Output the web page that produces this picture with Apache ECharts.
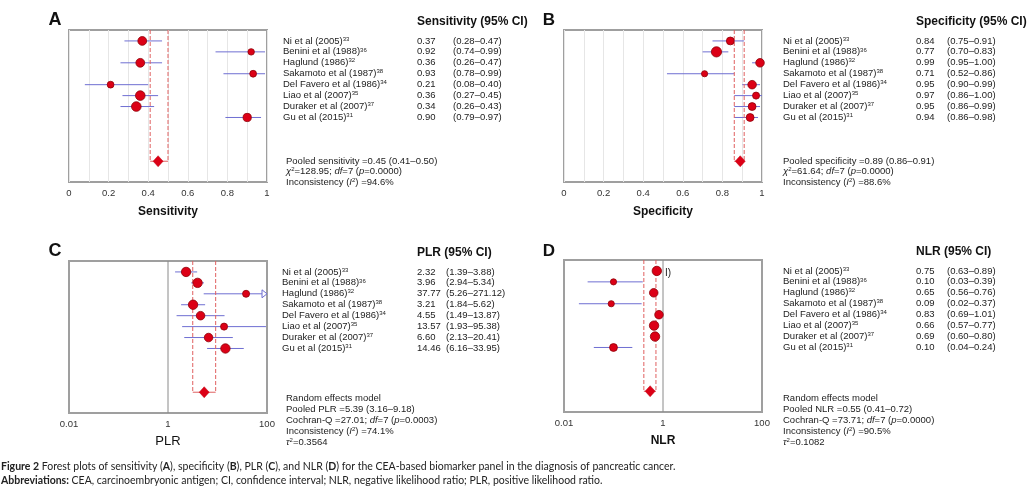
<!DOCTYPE html>
<html>
<head>
<meta charset="utf-8">
<script src="https://cdn.jsdelivr.net/npm/echarts@6/dist/echarts.min.js"></script>
<style>
html,body{margin:0;padding:0;background:#fff;}
#chart{width:1035px;height:492px;}
</style>
</head>
<body>
<div id="chart"></div>
<script>
// ---------------- DATA ----------------
const studies = ["Ni et al (2005)", "Benini et al (1988)", "Haglund (1986)", "Sakamoto et al (1987)",
                 "Del Favero et al (1986)", "Liao et al (2007)", "Duraker et al (2007)", "Gu et al (2015)"];
const refs = ["33", "36", "32", "38", "34", "35", "37", "31"];

const sensEst = [0.37, 0.92, 0.36, 0.93, 0.21, 0.36, 0.34, 0.90];
const sensLo  = [0.28, 0.74, 0.26, 0.78, 0.08, 0.27, 0.26, 0.79];
const sensHi  = [0.47, 0.99, 0.47, 0.99, 0.40, 0.45, 0.43, 0.97];
const sensWeight = [14, 7.6, 14, 8.4, 8.4, 16.8, 16.8, 12.3];
const sensPooled = [0.45, 0.41, 0.50];

const specEst = [0.84, 0.77, 0.99, 0.71, 0.95, 0.97, 0.95, 0.94];
const specLo  = [0.75, 0.70, 0.95, 0.52, 0.90, 0.86, 0.86, 0.86];
const specHi  = [0.91, 0.83, 1.00, 0.86, 0.99, 1.00, 0.99, 0.98];
const specWeight = [11.2, 18.9, 13.3, 7, 13.3, 9, 11.2, 11.2];
const specPooled = [0.89, 0.86, 0.91];

const plrEst = [2.32, 3.96, 37.77, 3.21, 4.55, 13.57, 6.60, 14.46];
const plrLo  = [1.39, 2.94, 5.26, 1.84, 1.49, 1.93, 2.13, 6.16];
const plrHi  = [3.88, 5.34, 271.12, 5.62, 13.87, 95.38, 20.41, 33.95];
const plrWeight = [16, 16, 9, 16, 13.3, 9, 13.3, 16];
const plrPooled = [5.39, 3.16, 9.18];

const nlrEst = [0.75, 0.10, 0.65, 0.09, 0.83, 0.66, 0.69, 0.10];
const nlrLo  = [0.63, 0.03, 0.56, 0.02, 0.69, 0.57, 0.60, 0.04];
const nlrHi  = [0.89, 0.39, 0.76, 0.37, 1.01, 0.77, 0.80, 0.24];
const nlrWeight = [16, 7, 13.3, 7, 13.3, 16, 16, 11.2];
const nlrPooled = [0.55, 0.41, 0.72];

const sensStats = {chi2: "128.95", df: "7", p: "0.0000", i2: "94.6"};
const specStats = {chi2: "61.64", df: "7", p: "0.0000", i2: "88.6"};
const plrStats = {q: "27.01", df: "7", p: "0.0003", i2: "74.1", tau2: "0.3564"};
const nlrStats = {q: "73.71", df: "7", p: "0.0000", i2: "90.5", tau2: "0.1082"};

const linearTicks = [0, 0.2, 0.4, 0.6, 0.8, 1];
const logTicks = [0.01, 1, 100];
const nullValue = 1;

// ---------------- LAYOUT / STYLE ----------------
const FONT = "'Liberation Sans', Arial, sans-serif";
const yMax = 13.9;
const pooledRow = 12;
const grids = [
  {left: 69,  top: 30,  width: 198, height: 152},
  {left: 564, top: 30,  width: 198, height: 152},
  {left: 69,  top: 261, width: 198, height: 152},
  {left: 564, top: 260, width: 198, height: 152}
];
const CI_COLOR = '#6f6fd2';
const RED = '#dc0016';
const DARKRED = '#8e0008';
const DASH = '#e06060';

function rowY(gi, i) { const g = grids[gi]; return g.top + (i) * g.height / yMax; }

function ciSeries(gi, lo, hi, axisMax) {
  return {
    type: 'custom', xAxisIndex: gi, yAxisIndex: gi, z: 3, silent: true,
    encode: {x: [0, 1], y: 2},
    data: lo.map((l, i) => [l, hi[i], i + 1]),
    renderItem: function (params, api) {
      const r = api.value(2);
      const h = api.value(1);
      const capped = axisMax != null && h > axisMax;
      const p1 = api.coord([api.value(0), r]);
      const p2 = api.coord([capped ? axisMax : h, r]);
      const ch = [{type: 'line', shape: {x1: p1[0], y1: p1[1], x2: p2[0], y2: p2[1]},
                   style: {stroke: CI_COLOR, lineWidth: 1}}];
      if (capped) {
        ch.push({type: 'polygon', shape: {points: [[p2[0], p2[1]], [p2[0] - 5, p2[1] - 4], [p2[0] - 5, p2[1] + 4]]},
                 style: {fill: '#fff', stroke: CI_COLOR, lineWidth: 1}});
      }
      return {type: 'group', children: ch};
    }
  };
}

function pointSeries(gi, est, w) {
  return {
    type: 'scatter', xAxisIndex: gi, yAxisIndex: gi, z: 5, silent: true,
    data: est.map((v, i) => ({value: [v, i + 1], symbolSize: 2.35 * Math.sqrt(w[i])})),
    symbol: 'circle',
    itemStyle: {color: RED, borderColor: DARKRED, borderWidth: 0.8, opacity: 1}
  };
}

function pooledSeries(gi, pooled) {
  return {
    type: 'custom', xAxisIndex: gi, yAxisIndex: gi, z: 4, silent: true,
    encode: {x: [0, 1, 2], y: 3},
    data: [[pooled[1], pooled[2], pooled[0], pooledRow]],
    renderItem: function (params, api) {
      const r = api.value(3);
      const a0 = api.coord([api.value(0), 0]), a1 = api.coord([api.value(0), r]);
      const b0 = api.coord([api.value(1), 0]), b1 = api.coord([api.value(1), r]);
      const c = api.coord([api.value(2), r]);
      const dash = {stroke: DASH, lineWidth: 1, lineDash: [4, 2]};
      return {type: 'group', children: [
        {type: 'line', shape: {x1: a0[0], y1: a0[1], x2: a1[0], y2: a1[1]}, style: dash},
        {type: 'line', shape: {x1: b0[0], y1: b0[1], x2: b1[0], y2: b1[1]}, style: dash},
        {type: 'line', shape: {x1: a1[0], y1: a1[1], x2: b1[0], y2: b1[1]}, style: {stroke: DASH, lineWidth: 1}},
        {type: 'polygon', shape: {points: [[c[0] - 5, c[1]], [c[0], c[1] - 5.5], [c[0] + 5, c[1]], [c[0], c[1] + 5.5]]},
         style: {fill: RED, stroke: '#c00010', lineWidth: 0.5}}
      ]};
    }
  };
}

function nullLineSeries(gi) {
  return {
    type: 'custom', xAxisIndex: gi, yAxisIndex: gi, z: 2, silent: true,
    encode: {x: 0, y: [1, 2]},
    data: [[nullValue, 0, yMax]],
    renderItem: function (params, api) {
      const p1 = api.coord([api.value(0), api.value(1)]);
      const p2 = api.coord([api.value(0), api.value(2)]);
      return {type: 'line', shape: {x1: p1[0], y1: p1[1], x2: p2[0], y2: p2[1]},
              style: {stroke: '#8a8a8a', lineWidth: 1}};
    }
  };
}

function linAxis(gi) {
  return {
    type: 'value', gridIndex: gi, min: 0, max: 1, interval: 0.1,
    axisLine: {show: false}, axisTick: {show: false},
    splitLine: {show: true, lineStyle: {color: '#e6e6e6', width: 1}},
    axisLabel: {
      show: true, margin: 6, fontSize: 9.5, fontFamily: FONT, color: '#333',
      showMinLabel: true, showMaxLabel: true, hideOverlap: false,
      formatter: v => linearTicks.some(t => Math.abs(t - v) < 1e-6) ? String(+v.toFixed(1)) : ''
    }
  };
}
function logAxis(gi) {
  return {
    type: 'log', logBase: 10, gridIndex: gi, min: 0.01, max: 100,
    axisLine: {show: false}, axisTick: {show: false}, splitLine: {show: false},
    minorTick: {show: false},
    axisLabel: {
      show: true, margin: 6, fontSize: 9.5, fontFamily: FONT, color: '#333',
      showMinLabel: true, showMaxLabel: true, hideOverlap: false,
      formatter: v => {
        const t = logTicks.find(t => Math.abs(Math.log10(t) - Math.log10(v)) < 1e-6);
        if (t == null) return '';
        return t < 1 ? t.toFixed(Math.round(-Math.log10(t))) : String(Math.round(t));
      }
    }
  };
}
function yAx(gi) {
  return {type: 'value', gridIndex: gi, min: 0, max: yMax, inverse: true, show: false};
}

// ---------------- TEXT ----------------
const baseRich = {
  r: {fontSize: 9.5, fontFamily: FONT, color: '#222'},
  i: {fontSize: 9.5, fontFamily: FONT, color: '#222', fontStyle: 'italic'},
  s: {fontSize: 6, fontFamily: FONT, color: '#222', verticalAlign: 'top'}
};
const graphics = [];
function txt(x, y, text, opts) {
  graphics.push({type: 'text', x: x, y: y, silent: true,
    style: Object.assign({text: text, fontFamily: FONT, fontSize: 9.5, fill: '#222',
                          align: 'left', verticalAlign: 'middle', rich: baseRich}, opts || {})});
}
const fmt2 = v => v.toFixed(2);

function textBlock(gi, nameX, valX, ciX, header, est, lo, hi, lines, linesX, linesY0) {
  const g = grids[gi];
  txt(valX, g.top - 8, header, {fontSize: 12, fontWeight: 'bold', fill: '#111'});
  for (let i = 0; i < studies.length; i++) {
    const y = rowY(gi, i + 1);
    txt(nameX, y, '{r|' + studies[i] + '}{s|' + refs[i] + '}');
    txt(valX, y, fmt2(est[i]));
    txt(ciX, y, '(' + fmt2(lo[i]) + '\u2013' + fmt2(hi[i]) + ')');
  }
  lines.forEach((ln, k) => txt(linesX, linesY0 + k * (lines.length > 3 ? 11 : 10.5), ln));
}

textBlock(0, 283, 417, 453, 'Sensitivity (95% CI)', sensEst, sensLo, sensHi, [
  '{r|Pooled sensitivity =' + fmt2(sensPooled[0]) + ' (' + fmt2(sensPooled[1]) + '\u2013' + fmt2(sensPooled[2]) + ')}',
  '{i|\u03c7}{s|2}{r|=' + sensStats.chi2 + '; }{i|df}{r|=' + sensStats.df + ' (}{i|p}{r|=' + sensStats.p + ')}',
  '{r|Inconsistency (}{i|I}{s|2}{r|) =' + sensStats.i2 + '%}'
], 286, 161);

textBlock(1, 783, 916, 947, 'Specificity (95% CI)', specEst, specLo, specHi, [
  '{r|Pooled specificity =' + fmt2(specPooled[0]) + ' (' + fmt2(specPooled[1]) + '\u2013' + fmt2(specPooled[2]) + ')}',
  '{i|\u03c7}{s|2}{r|=' + specStats.chi2 + '; }{i|df}{r|=' + specStats.df + ' (}{i|p}{r|=' + specStats.p + ')}',
  '{r|Inconsistency (}{i|I}{s|2}{r|) =' + specStats.i2 + '%}'
], 783, 161);

textBlock(2, 282, 417, 446, 'PLR (95% CI)', plrEst, plrLo, plrHi, [
  '{r|Random effects model}',
  '{r|Pooled PLR =' + fmt2(plrPooled[0]) + ' (' + fmt2(plrPooled[1]) + '\u2013' + fmt2(plrPooled[2]) + ')}',
  '{r|Cochran-Q =' + plrStats.q + '; }{i|df}{r|=' + plrStats.df + ' (}{i|p}{r|=' + plrStats.p + ')}',
  '{r|Inconsistency (}{i|I}{s|2}{r|) =' + plrStats.i2 + '%}',
  '{i|\u03c4}{s|2}{r|=' + plrStats.tau2 + '}'
], 286, 398);

textBlock(3, 783, 916, 947, 'NLR (95% CI)', nlrEst, nlrLo, nlrHi, [
  '{r|Random effects model}',
  '{r|Pooled NLR =' + fmt2(nlrPooled[0]) + ' (' + fmt2(nlrPooled[1]) + '\u2013' + fmt2(nlrPooled[2]) + ')}',
  '{r|Cochran-Q =' + nlrStats.q + '; }{i|df}{r|=' + nlrStats.df + ' (}{i|p}{r|=' + nlrStats.p + ')}',
  '{r|Inconsistency (}{i|I}{s|2}{r|) =' + nlrStats.i2 + '%}',
  '{i|\u03c4}{s|2}{r|=' + nlrStats.tau2 + '}'
], 783, 398);

// stray fragment visible in panel D of the original
txt(665, 273, 'I)', {fontSize: 10});

// panel letters
txt(55, 20, 'A', {fontSize: 18, fontWeight: 'bold', align: 'center', fill: '#111'});
txt(549, 20, 'B', {fontSize: 17, fontWeight: 'bold', align: 'center', fill: '#111'});
txt(55, 251, 'C', {fontSize: 18, fontWeight: 'bold', align: 'center', fill: '#111'});
txt(549, 251, 'D', {fontSize: 17, fontWeight: 'bold', align: 'center', fill: '#111'});

// axis titles
txt(168, 212, 'Sensitivity', {fontSize: 12, fontWeight: 'bold', align: 'center', fill: '#111'});
txt(663, 212, 'Specificity', {fontSize: 12, fontWeight: 'bold', align: 'center', fill: '#111'});
txt(168, 441, 'PLR', {fontSize: 13, align: 'center', fill: '#111'});
txt(663, 441, 'NLR', {fontSize: 12, fontWeight: 'bold', align: 'center', fill: '#111'});

// caption
const CAPF = "Lato, 'Open Sans', sans-serif";
const capRich = {
  r: {fontSize: 10.5, fontFamily: CAPF, color: '#231f20'},
  b: {fontSize: 10.5, fontFamily: CAPF, color: '#231f20', fontWeight: 'bold'}
};
txt(1, 467, '{b|Figure 2} {r|Forest plots of sensitivity (}{b|A}{r|), specificity (}{b|B}{r|), PLR (}{b|C}{r|), and NLR (}{b|D}{r|) for the CEA-based biomarker panel in the diagnosis of pancreatic cancer.}', {rich: capRich});
txt(1, 481, '{b|Abbreviations:} {r|CEA, carcinoembryonic antigen; CI, confidence interval; NLR, negative likelihood ratio; PLR, positive likelihood ratio.}', {rich: capRich});

// ---------------- CHART ----------------
const chart = echarts.init(document.getElementById('chart'), null, {renderer: 'canvas'});
chart.setOption({
  animation: false,
  backgroundColor: '#fff',
  grid: grids.map(g => Object.assign({show: true, borderColor: '#9f9f9f', borderWidth: 2, backgroundColor: '#fff', containLabel: false}, g)),
  xAxis: [linAxis(0), linAxis(1), logAxis(2), logAxis(3)],
  yAxis: [yAx(0), yAx(1), yAx(2), yAx(3)],
  series: [
    ciSeries(0, sensLo, sensHi, 1), pointSeries(0, sensEst, sensWeight), pooledSeries(0, sensPooled),
    ciSeries(1, specLo, specHi, 1), pointSeries(1, specEst, specWeight), pooledSeries(1, specPooled),
    nullLineSeries(2), ciSeries(2, plrLo, plrHi, 100), pointSeries(2, plrEst, plrWeight), pooledSeries(2, plrPooled),
    nullLineSeries(3), ciSeries(3, nlrLo, nlrHi, 100), pointSeries(3, nlrEst, nlrWeight), pooledSeries(3, nlrPooled)
  ],
  graphic: graphics
});
</script>
</body>
</html>
